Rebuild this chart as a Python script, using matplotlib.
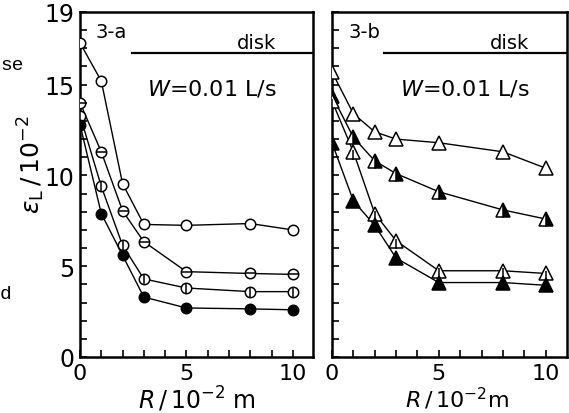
import matplotlib

matplotlib.use("Agg")
import matplotlib.pyplot as plt

# radial position R / 10^-2 m
r_pos = [0, 1, 2, 3, 5, 8, 10]

# panel 3-a (circles)
a_open = [17.3, 15.2, 9.55, 7.3, 7.25, 7.35, 7.0]
a_hbar = [14.0, 11.3, 8.05, 6.35, 4.7, 4.6, 4.55]
a_vbar = [13.3, 9.4, 6.15, 4.3, 3.8, 3.6, 3.6]
a_fill = [12.8, 7.9, 5.6, 3.3, 2.7, 2.65, 2.6]

# panel 3-b (triangles)
b_open = [15.7, 13.4, 12.4, 12.0, 11.8, 11.3, 10.4]
b_half = [14.4, 12.1, 10.8, 10.1, 9.1, 8.1, 7.6]
b_vbar = [14.1, 11.3, 7.9, 6.4, 4.75, 4.75, 4.6]
b_fill = [11.8, 8.6, 7.25, 5.45, 4.1, 4.1, 3.95]

y_labels = {0: "0", 5: "5", 10: "10", 15: "15", 19: "19"}
x_labels = {0: "0", 5: "5", 10: "10"}

plt.rcParams["mathtext.fontset"] = "dejavusans"
plt.rcParams["font.family"] = "DejaVu Sans"

W, H = 569, 414
fig = plt.figure(figsize=(W / 100, H / 100), dpi=100)
ax_a = fig.add_axes([80 / W, 56 / H, 233 / W, 345 / H])
ax_b = fig.add_axes([332 / W, 56 / H, 235 / W, 345 / H])

ms_c, ms_t = 7.5, 9.5
line_kw = dict(color="black", linewidth=1.0, zorder=2)


def circles(ax, y, face, bar=None):
    ax.plot(r_pos, y, "-", **line_kw)
    ax.plot(r_pos, y, "o", ms=ms_c, mfc=face, mec="black", mew=1.1, zorder=3)
    if bar:
        ax.plot(r_pos, y, bar, ms=ms_c - 1, mec="black", mew=1.1, zorder=4)


def triangles(ax, y, face, bar=None, half=False):
    ax.plot(r_pos, y, "-", **line_kw)
    if half:
        ax.plot(r_pos, y, "^", ms=ms_t, mfc="black", mfcalt="white",
                fillstyle="right", mec="black", mew=1.1, zorder=3)
    else:
        ax.plot(r_pos, y, "^", ms=ms_t, mfc=face, mec="black", mew=1.1, zorder=3)
    if bar:
        ax.plot(r_pos, [v - 0.15 for v in y], bar, ms=ms_t - 3, mec="black",
                mew=1.1, zorder=4)


circles(ax_a, a_open, "white")
circles(ax_a, a_hbar, "white", "_")
circles(ax_a, a_vbar, "white", "|")
circles(ax_a, a_fill, "black")

triangles(ax_b, b_open, "white")
triangles(ax_b, b_half, "white", half=True)
triangles(ax_b, b_vbar, "white", "|")
triangles(ax_b, b_fill, "black")

for ax, tag, xmax in [(ax_a, "3-a", 10.95), (ax_b, "3-b", 11.0)]:
    ax.set_xlim(0, xmax)
    ax.set_ylim(0, 19)
    ax.set_xticks(range(0, 11))
    ax.set_yticks(range(0, 20))
    ax.set_xticklabels([x_labels.get(i, "") for i in range(0, 11)])
    ax.tick_params(direction="in", length=5, width=1.2, labelsize=17, pad=4)
    ax.tick_params(axis="x", pad=4, labelsize=16)
    for s in ax.spines.values():
        s.set_linewidth(1.8)
    ax.text(0.75, 17.9, tag, fontsize=14, va="center", ha="left")
    ax.text(8.3, 17.3, "disk", fontsize=14, va="center", ha="center")
    ax.plot([2.45, xmax], [16.75, 16.75], color="black", lw=1.6,
            clip_on=False)
    ax.text(6.2, 14.8, r"$W$=0.01 L/s", fontsize=16, va="center", ha="center")

ax_a.set_yticklabels([y_labels.get(i, "") for i in range(0, 20)])
ax_b.set_yticklabels([])

ax_a.set_ylabel(r"$\varepsilon_{\rm L}\,/\,10^{-2}$", fontsize=18)
ax_a.yaxis.set_label_coords(-0.14, 0.56)
ax_a.set_xlabel(r"$R\,/\,10^{-2}$ m", fontsize=17)
ax_a.xaxis.set_label_coords(0.5, -0.078)
ax_b.set_xlabel(r"$R\,/\,10^{-2}$m", fontsize=16)
ax_b.xaxis.set_label_coords(0.53, -0.08)

fig.text(0.0, 1 - 65 / H, "se", fontsize=14, family="Liberation Mono",
         va="center", ha="left")
fig.text(0.0, 1 - 295 / H, "d", fontsize=14, family="Liberation Mono",
         va="center", ha="left")

fig.savefig("out.png", dpi=100)
